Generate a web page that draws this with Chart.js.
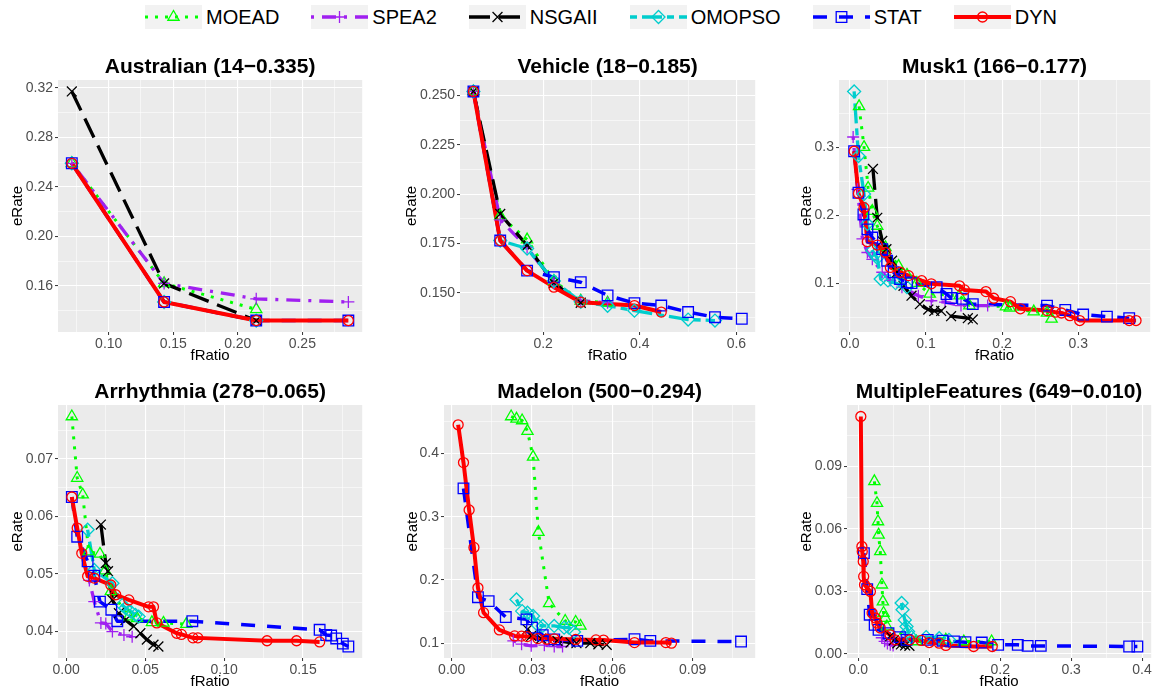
<!DOCTYPE html>
<html>
<head>
<meta charset="utf-8">
<script src="https://cdn.jsdelivr.net/npm/chart.js@4.4.0/dist/chart.umd.min.js"></script>
<style>
  body { margin: 0; background: #fff; font-family: "Liberation Sans", Arial, Helvetica, sans-serif; }
  #page { position: relative; width: 1163px; height: 693px; overflow: hidden; }
  .legend { position: absolute; left: 145px; top: 5px; height: 24px; display: flex; align-items: center; }
  .legend .item { display: flex; align-items: center; margin-right: 32px; font-size: 20px; color: #000; }
  .legend canvas { margin-right: 4px; }
  .panel { position: absolute; }
</style>
</head>
<body>
<div id="page">
  <div class="legend" id="legend"></div>
</div>
<script>
Chart.defaults.font.family = '"Liberation Sans", Arial, Helvetica, sans-serif';
Chart.defaults.animation = false;

const algorithms = ['MOEAD', 'SPEA2', 'NSGAII', 'OMOPSO', 'STAT', 'DYN'];

// Australian: [fRatio, eRate]
const ausXTicks = ['0.10', '0.15', '0.20', '0.25'];
const ausYTicks = ['0.16', '0.20', '0.24', '0.28', '0.32'];
const ausMoead = [[0.0714, 0.259], [0.1429, 0.162], [0.2143, 0.141]];
const ausSpea2 = [[0.0714, 0.259], [0.1429, 0.162], [0.2143, 0.1495], [0.2857, 0.147]];
const ausNsgaii = [[0.0714, 0.317], [0.1429, 0.162], [0.2143, 0.132]];
const ausOmopso = [[0.0714, 0.259], [0.1429, 0.147], [0.2143, 0.132]];
const ausStat = [[0.0714, 0.259], [0.1429, 0.147], [0.2143, 0.132], [0.2857, 0.132]];
const ausDyn = [[0.0714, 0.259], [0.1429, 0.147], [0.2143, 0.132], [0.2857, 0.132]];

// Vehicle
const vehXTicks = ['0.2', '0.4', '0.6'];
const vehYTicks = ['0.150', '0.175', '0.200', '0.225', '0.250'];
const vehMoead = [[0.0556, 0.252], [0.1111, 0.189], [0.1667, 0.177], [0.2222, 0.156], [0.2778, 0.146], [0.3333, 0.145]];
const vehSpea2 = [[0.0556, 0.252], [0.1111, 0.187], [0.1667, 0.173], [0.2222, 0.155], [0.2778, 0.146], [0.3333, 0.145]];
const vehNsgaii = [[0.0556, 0.252], [0.1111, 0.19], [0.1667, 0.174], [0.2222, 0.155], [0.2778, 0.145]];
const vehOmopso = [[0.0556, 0.252], [0.1111, 0.1765], [0.1667, 0.1725], [0.2222, 0.156], [0.2778, 0.1455], [0.3333, 0.1435], [0.3889, 0.141], [0.5, 0.1365], [0.5556, 0.136]];
const vehStat = [[0.0556, 0.252], [0.1111, 0.1765], [0.1667, 0.1613], [0.2222, 0.158], [0.2778, 0.1554], [0.3333, 0.1487], [0.3889, 0.1448], [0.4444, 0.1436], [0.5, 0.1403], [0.5556, 0.1377], [0.6111, 0.1369]];
const vehDyn = [[0.0556, 0.252], [0.1111, 0.1765], [0.1667, 0.1613], [0.2222, 0.1529], [0.2778, 0.1453], [0.3889, 0.1436], [0.4444, 0.1403]];

// Musk1
const muskXTicks = ['0.0', '0.1', '0.2', '0.3'];
const muskYTicks = ['0.1', '0.2', '0.3'];
const muskMoead = [[0.0121, 0.36], [0.0186, 0.30], [0.024, 0.24], [0.0294, 0.206], [0.036, 0.184], [0.0468, 0.1525], [0.064, 0.125], [0.075, 0.112], [0.088, 0.1], [0.105, 0.084], [0.144, 0.0815], [0.157, 0.067], [0.205, 0.0655], [0.21, 0.0635], [0.2416, 0.058], [0.259, 0.0561], [0.265, 0.0474]];
const muskSpea2 = [[0.0043, 0.315], [0.01, 0.238], [0.0165, 0.165], [0.023, 0.145], [0.0295, 0.135], [0.0425, 0.116], [0.053, 0.104], [0.0684, 0.094], [0.09, 0.0815], [0.107, 0.074], [0.125, 0.072], [0.146, 0.067], [0.181, 0.067]];
const muskNsgaii = [[0.0303, 0.268], [0.036, 0.196], [0.0425, 0.162], [0.048, 0.15], [0.0554, 0.133], [0.062, 0.116], [0.0705, 0.096], [0.081, 0.0815], [0.092, 0.069], [0.103, 0.061], [0.111, 0.059], [0.12, 0.059], [0.133, 0.0513], [0.155, 0.0484], [0.1615, 0.0465]];
const muskOmopso = [[0.0056, 0.382], [0.0113, 0.287], [0.0186, 0.231], [0.023, 0.187], [0.0295, 0.148], [0.033, 0.142], [0.036, 0.137], [0.0405, 0.106], [0.05, 0.104], [0.06, 0.1], [0.075, 0.094]];
const muskStat = [[0.0056, 0.294], [0.0113, 0.233], [0.0178, 0.201], [0.023, 0.179], [0.0295, 0.167], [0.0425, 0.15], [0.049, 0.133], [0.0575, 0.116], [0.066, 0.106], [0.075, 0.101], [0.081, 0.1], [0.114, 0.094], [0.127, 0.084], [0.133, 0.078], [0.1485, 0.077], [0.1615, 0.069], [0.259, 0.0669], [0.283, 0.0605], [0.3065, 0.0537], [0.3377, 0.0507], [0.367, 0.0484]];
const muskDyn = [[0.0056, 0.294], [0.0113, 0.232], [0.0186, 0.211], [0.023, 0.161], [0.036, 0.156], [0.0468, 0.145], [0.0532, 0.123], [0.066, 0.116], [0.077, 0.111], [0.0944, 0.1035], [0.107, 0.099], [0.144, 0.096], [0.1506, 0.09], [0.1788, 0.0875], [0.189, 0.0777], [0.211, 0.0727], [0.224, 0.0622], [0.259, 0.0596], [0.27, 0.0572], [0.278, 0.056], [0.289, 0.052], [0.302, 0.0449], [0.367, 0.0449], [0.376, 0.0449]];

// Arrhythmia
const arrXTicks = ['0.00', '0.05', '0.10', '0.15'];
const arrYTicks = ['0.04', '0.05', '0.06', '0.07'];
const arrMoead = [[0.0036, 0.0774], [0.007, 0.0667], [0.0105, 0.0638], [0.0143, 0.0539], [0.0214, 0.0535], [0.0247, 0.0506], [0.0283, 0.047], [0.0397, 0.0426], [0.0449, 0.0423], [0.0543, 0.0416], [0.0616, 0.0415], [0.0761, 0.0413]];
const arrSpea2 = [[0.0147, 0.0489], [0.0178, 0.0452], [0.022, 0.0415], [0.0251, 0.0414], [0.0293, 0.04], [0.0366, 0.0394], [0.0418, 0.0391]];
const arrNsgaii = [[0.022, 0.0586], [0.0251, 0.0519], [0.0265, 0.0505], [0.0293, 0.0455], [0.0334, 0.0432], [0.0376, 0.042], [0.0428, 0.0409], [0.047, 0.0397], [0.0511, 0.0386], [0.0553, 0.0377], [0.0584, 0.0374]];
const arrOmopso = [[0.0136, 0.0577], [0.0178, 0.0507], [0.0293, 0.0484], [0.0355, 0.0446], [0.0376, 0.0441], [0.0407, 0.0435], [0.0439, 0.0429], [0.0459, 0.0426]];
const arrStat = [[0.0036, 0.0634], [0.007, 0.0565], [0.0136, 0.0522], [0.0178, 0.0497], [0.0214, 0.0452], [0.0286, 0.0438], [0.0324, 0.0418], [0.0799, 0.0418], [0.1605, 0.0403], [0.1647, 0.0394], [0.1678, 0.0393], [0.171, 0.0388], [0.1752, 0.0379], [0.1787, 0.0374]];
const arrDyn = [[0.0036, 0.0634], [0.007, 0.058], [0.0099, 0.0536], [0.0136, 0.0496], [0.0178, 0.0493], [0.0283, 0.0481], [0.0314, 0.0464], [0.0397, 0.0455], [0.0522, 0.0443], [0.0553, 0.0443], [0.0574, 0.0415], [0.07, 0.0397], [0.073, 0.0395], [0.0803, 0.0389], [0.0834, 0.0389], [0.1272, 0.0384], [0.1459, 0.0384], [0.1605, 0.0382]];

// Madelon
const madXTicks = ['0.00', '0.03', '0.06', '0.09'];
const madYTicks = ['0.1', '0.2', '0.3', '0.4'];
const madMoead = [[0.0222, 0.4585], [0.0242, 0.4548], [0.0263, 0.4522], [0.0283, 0.4354], [0.0304, 0.3946], [0.0324, 0.2756], [0.0364, 0.1629], [0.0424, 0.1351], [0.0463, 0.1335], [0.0481, 0.1273]];
const madSpea2 = [[0.023, 0.1037], [0.0261, 0.0984], [0.0297, 0.0958], [0.0346, 0.0969], [0.0383, 0.0948], [0.0414, 0.0948]];
const madNsgaii = [[0.0283, 0.122], [0.0297, 0.1115], [0.0334, 0.1073], [0.0395, 0.1037], [0.0444, 0.101], [0.0466, 0.1], [0.0518, 0.1], [0.0548, 0.0984], [0.0579, 0.0974]];
const madOmopso = [[0.0242, 0.1692], [0.0263, 0.1508], [0.0283, 0.1482], [0.0304, 0.143], [0.0322, 0.1283], [0.034, 0.1273], [0.0383, 0.1273], [0.042, 0.1246], [0.0438, 0.1246], [0.0457, 0.1178]];
const madStat = [[0.0044, 0.3448], [0.0098, 0.1728], [0.0138, 0.1665], [0.0202, 0.1414], [0.0279, 0.1377], [0.03, 0.1247], [0.034, 0.1126], [0.0383, 0.106], [0.0469, 0.1037], [0.0683, 0.1063], [0.0742, 0.1037], [0.1081, 0.1026]];
const madDyn = [[0.0024, 0.4454], [0.0044, 0.3856], [0.0065, 0.3107], [0.0083, 0.2515], [0.0098, 0.1876], [0.0119, 0.1483], [0.0178, 0.121], [0.0235, 0.1115], [0.0261, 0.1112], [0.0282, 0.1105], [0.0322, 0.1073], [0.0355, 0.1063], [0.0383, 0.107], [0.0463, 0.106], [0.0539, 0.1052], [0.0567, 0.105], [0.0683, 0.101], [0.08, 0.101], [0.0821, 0.1]];

// MultipleFeatures
const mfXTicks = ['0.0', '0.1', '0.2', '0.3', '0.4'];
const mfYTicks = ['0.00', '0.03', '0.06', '0.09'];
const mfMoead = [[0.0226, 0.0829], [0.0263, 0.0724], [0.0277, 0.0636], [0.0286, 0.0572], [0.0309, 0.0492], [0.0332, 0.0332], [0.0346, 0.0251], [0.0355, 0.0196], [0.0379, 0.0171], [0.0402, 0.0131], [0.0817, 0.0059], [0.1233, 0.0067], [0.1487, 0.0059], [0.1879, 0.0059]];
const mfSpea2 = [[0.033, 0.0077], [0.037, 0.006], [0.041, 0.005], [0.045, 0.0043], [0.049, 0.004]];
const mfNsgaii = [[0.045, 0.0085], [0.05, 0.0065], [0.055, 0.005], [0.06, 0.0045], [0.066, 0.004], [0.072, 0.0038]];
const mfOmopso = [[0.061, 0.0244], [0.0623, 0.0212], [0.0655, 0.0163], [0.0679, 0.0131], [0.0701, 0.0107], [0.0748, 0.008], [0.0956, 0.008], [0.114, 0.0075], [0.1278, 0.0067]];
const mfStat = [[0.0078, 0.0484], [0.0125, 0.0311], [0.016, 0.0188], [0.023, 0.0139], [0.0285, 0.0115], [0.0425, 0.0099], [0.0586, 0.008], [0.0679, 0.0067], [0.0978, 0.0067], [0.1186, 0.0063], [0.1348, 0.0059], [0.151, 0.0056], [0.174, 0.0054], [0.1971, 0.0043], [0.2248, 0.0043], [0.2387, 0.0038], [0.2572, 0.0038], [0.3818, 0.0035], [0.3934, 0.0035]];
const mfDyn = [[0.0035, 0.1141], [0.005, 0.0516], [0.0055, 0.0492], [0.0069, 0.0444], [0.0075, 0.0372], [0.0087, 0.0332], [0.0125, 0.0316], [0.017, 0.03], [0.0194, 0.0196], [0.024, 0.0172], [0.0263, 0.0148], [0.0309, 0.0124], [0.0447, 0.0091], [0.0517, 0.0067], [0.0724, 0.0067], [0.0886, 0.0064], [0.1, 0.0054], [0.114, 0.0051], [0.1233, 0.004], [0.1625, 0.0035], [0.1888, 0.0035]];

// line/marker look of each algorithm (same order as algorithms)
const seriesStyles = [
  { color: '#00FF00', width: 3,   dash: [3, 7],        shape: 'triangle', radius: 6.5 },
  { color: '#A020F0', width: 3.3, dash: [3, 8, 14, 8], shape: 'cross',    radius: 6 },
  { color: '#000000', width: 3.3, dash: [21, 9],       shape: 'crossRot', radius: 7 },
  { color: '#00CDCD', width: 3.3, dash: [7, 5, 20, 5], shape: 'rectRot',  radius: 6.5 },
  { color: '#0000FF', width: 3.5, dash: [14, 12],      shape: 'rect',     radius: 7.5 },
  { color: '#FF0000', width: 4,   dash: [],            shape: 'circle',   radius: 5 }
];

const panels = [
  { title: 'Australian (14\u22120.335)', series: [ausMoead, ausSpea2, ausNsgaii, ausOmopso, ausStat, ausDyn], xTicks: ausXTicks, yTicks: ausYTicks, left: 0, top: 50, axisW: 58, plotW: 309, plotH: 252 },
  { title: 'Vehicle (18\u22120.185)', series: [vehMoead, vehSpea2, vehNsgaii, vehOmopso, vehStat, vehDyn], xTicks: vehXTicks, yTicks: vehYTicks, left: 394, top: 50, axisW: 66, plotW: 300, plotH: 252 },
  { title: 'Musk1 (166\u22120.177)', series: [muskMoead, muskSpea2, muskNsgaii, muskOmopso, muskStat, muskDyn], xTicks: muskXTicks, yTicks: muskYTicks, left: 789, top: 50, axisW: 50, plotW: 316, plotH: 252 },
  { title: 'Arrhythmia (278\u22120.065)', series: [arrMoead, arrSpea2, arrNsgaii, arrOmopso, arrStat, arrDyn], xTicks: arrXTicks, yTicks: arrYTicks, left: 0, top: 375, axisW: 58, plotW: 309, plotH: 253 },
  { title: 'Madelon (500\u22120.294)', series: [madMoead, madSpea2, madNsgaii, madOmopso, madStat, madDyn], xTicks: madXTicks, yTicks: madYTicks, left: 395, top: 375, axisW: 49, plotW: 316, plotH: 253 },
  { title: 'MultipleFeatures (649\u22120.010)', series: [mfMoead, mfSpea2, mfNsgaii, mfOmopso, mfStat, mfDyn], xTicks: mfXTicks, yTicks: mfYTicks, left: 789, top: 375, axisW: 58, plotW: 309, plotH: 253 }
];

// data range plus the usual 5% margin on both sides
function axisRange(series, k) {
  const vals = series.flat().map(p => p[k]);
  const lo = Math.min(...vals), hi = Math.max(...vals);
  const pad = (hi - lo) * 0.05;
  return [lo - pad, hi + pad];
}

// labelled ticks plus unlabelled minor ticks half-way between them
function gridTicks(labels, min, max) {
  const major = labels.map(Number);
  const step = major[1] - major[0];
  const ticks = labels.map((t, i) => ({ value: major[i], text: t, minor: false }));
  for (let i = -1; i < major.length; i++) {
    const v = major[0] + (i + 0.5) * step;
    if (v > min && v < max) ticks.push({ value: v, text: '', minor: true });
  }
  return ticks.filter(t => t.value >= min && t.value <= max).sort((a, b) => a.value - b.value);
}

const isMinor = c => c.tick && c.tick.minor;

function axis(labels, range, title, horizontal, size) {
  return {
    type: 'linear',
    min: range[0],
    max: range[1],
    afterBuildTicks: s => { s.ticks = gridTicks(labels, range[0], range[1]); },
    afterFit: s => { if (horizontal) s.height = size; else s.width = size; },
    ticks: {
      autoSkip: false, maxRotation: 0, minRotation: 0,
      padding: horizontal ? 1 : 2,
      color: '#4D4D4D',
      font: { size: 14 },
      callback: (v, i, ticks) => ticks[i].text
    },
    grid: {
      color: '#FFFFFF',
      lineWidth: c => isMinor(c) ? 0.55 : 1.1,
      drawTicks: true,
      tickLength: 3,
      tickWidth: 1,
      tickColor: c => isMinor(c) ? 'rgba(0,0,0,0)' : '#333333'
    },
    border: { display: false },
    title: {
      display: true, text: title, color: '#000', font: { size: 15 },
      padding: horizontal ? { top: 0, bottom: 0 } : { top: 9, bottom: 0 }
    }
  };
}

const panelBackground = {
  id: 'panelBackground',
  beforeDraw(chart) {
    const { ctx, chartArea: a } = chart;
    ctx.save();
    ctx.fillStyle = '#EBEBEB';
    ctx.fillRect(a.left, a.top, a.right - a.left, a.bottom - a.top);
    ctx.restore();
  }
};

// title centred over the plotting panel, not the whole canvas
const panelTitle = {
  id: 'panelTitle',
  afterDraw(chart, args, opts) {
    const { ctx, chartArea: a } = chart;
    ctx.save();
    ctx.font = 'bold 21px "Liberation Sans", Arial, Helvetica, sans-serif';
    ctx.fillStyle = '#000';
    ctx.textAlign = 'center';
    ctx.textBaseline = 'middle';
    ctx.fillText(opts.text, (a.left + a.right) / 2, a.top - 13);
    ctx.restore();
  }
};

function makeDatasets(series) {
  const sets = [];
  series.forEach((pts, i) => {
    const s = seriesStyles[i];
    const data = pts.map(([x, y]) => ({ x, y }));
    // lines first, markers on top
    sets.push({
      label: algorithms[i], data, showLine: true,
      borderColor: s.color, borderWidth: s.width, borderDash: s.dash,
      borderCapStyle: 'butt', borderJoinStyle: 'round',
      pointRadius: 0, pointHoverRadius: 0, order: 20 - i
    });
    sets.push({
      label: algorithms[i], data, showLine: false,
      pointStyle: s.shape, pointRadius: s.radius, pointHoverRadius: s.radius,
      pointBorderWidth: 1.3, pointBorderColor: s.color,
      pointBackgroundColor: 'rgba(0,0,0,0)', order: 10 - i
    });
  });
  return sets;
}

const page = document.getElementById('page');

panels.forEach(p => {
  const cv = document.createElement('canvas');
  const w = p.axisW + p.plotW + 4;
  const h = 30 + p.plotH + 33;
  cv.className = 'panel';
  cv.width = w; cv.height = h;
  cv.style.left = p.left + 'px';
  cv.style.top = p.top + 'px';
  cv.style.width = w + 'px';
  cv.style.height = h + 'px';
  page.appendChild(cv);

  new Chart(cv.getContext('2d'), {
    type: 'scatter',
    data: { datasets: makeDatasets(p.series) },
    options: {
      responsive: false,
      animation: false,
      events: [],
      layout: { padding: { top: 30, right: 4, bottom: 0, left: 0 } },
      scales: {
        x: axis(p.xTicks, axisRange(p.series, 0), 'fRatio', true, 33),
        y: axis(p.yTicks, axisRange(p.series, 1), 'eRate', false, p.axisW)
      },
      plugins: {
        legend: { display: false },
        tooltip: { enabled: false },
        panelTitle: { text: p.title }
      }
    },
    plugins: [panelBackground, panelTitle]
  });
});

// shared legend row
const legend = document.getElementById('legend');
algorithms.forEach((name, i) => {
  const s = seriesStyles[i];
  const item = document.createElement('div');
  item.className = 'item';
  const key = document.createElement('canvas');
  key.width = 57; key.height = 24;
  const g = key.getContext('2d');
  g.fillStyle = '#F2F2F2';
  g.fillRect(0, 0, 57, 24);
  g.strokeStyle = s.color;
  g.lineWidth = s.width;
  g.lineCap = 'butt';
  g.setLineDash(s.dash);
  g.beginPath();
  g.moveTo(0, 12);
  g.lineTo(57, 12);
  g.stroke();
  g.setLineDash([]);
  g.lineWidth = 1.3;
  g.fillStyle = 'rgba(0,0,0,0)';
  Chart.helpers.drawPoint(g, { pointStyle: s.shape, radius: s.radius, rotation: 0, borderWidth: 1.3 }, 28.5, 12);
  const label = document.createElement('span');
  label.textContent = name;
  item.appendChild(key);
  item.appendChild(label);
  legend.appendChild(item);
});
</script>
</body>
</html>
